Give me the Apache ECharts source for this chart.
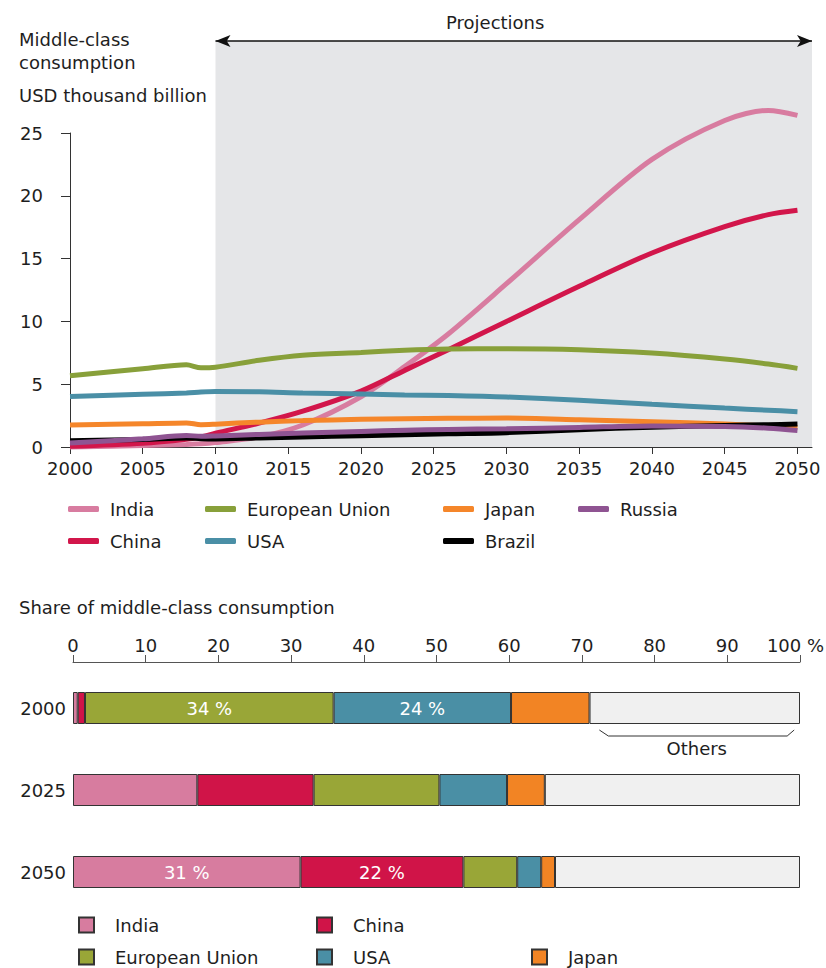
<!DOCTYPE html>
<html><head><meta charset="utf-8">
<script src="https://cdn.jsdelivr.net/npm/echarts@6/dist/echarts.min.js"></script>
<style>html,body{margin:0;padding:0;background:#fff}#c{width:826px;height:968px}</style>
</head><body><div id="c"></div>
<script>
// ---- Line chart data (USD thousand billion) ----
const years   = [2000, 2005, 2008, 2009, 2010, 2013, 2016, 2020, 2023, 2026, 2030, 2035, 2040, 2045, 2048, 2050];
const india   = [0.0, 0.12, 0.2, 0.25, 0.35, 0.8, 1.75, 4.0, 6.4, 9.0, 13.0, 18.1, 22.9, 26.0, 26.8, 26.4];
const china   = [0.05, 0.3, 0.62, 0.8, 1.1, 1.9, 2.85, 4.45, 6.1, 7.75, 10.0, 12.8, 15.45, 17.55, 18.5, 18.85];
const eu      = [5.68, 6.23, 6.55, 6.3, 6.35, 6.9, 7.3, 7.53, 7.7, 7.8, 7.83, 7.75, 7.48, 7.0, 6.6, 6.26];
const usa     = [4.03, 4.2, 4.3, 4.38, 4.42, 4.4, 4.3, 4.22, 4.15, 4.1, 3.98, 3.72, 3.4, 3.1, 2.93, 2.81];
const japan   = [1.75, 1.85, 1.92, 1.78, 1.82, 1.98, 2.1, 2.2, 2.25, 2.28, 2.3, 2.17, 2.01, 1.83, 1.68, 1.56];
const russia  = [0.32, 0.65, 0.92, 0.85, 0.88, 1.0, 1.12, 1.24, 1.33, 1.4, 1.45, 1.56, 1.68, 1.64, 1.5, 1.32];
const brazil  = [0.5, 0.6, 0.72, 0.66, 0.64, 0.72, 0.8, 0.9, 0.98, 1.05, 1.14, 1.38, 1.58, 1.72, 1.78, 1.83];
const lineNames = ['India', 'China', 'European Union', 'USA', 'Japan', 'Brazil', 'Russia'];
const lineValues = [india, china, eu, usa, japan, brazil, russia];
const yearTicks = [2000, 2005, 2010, 2015, 2020, 2025, 2030, 2035, 2040, 2045, 2050];
const projectionStart = 2010;

// ---- Share bar chart data (%) ----
const shareYears  = ['2000', '2025', '2050'];
const shareIndia  = [0.65, 17.1, 31.3];
const shareChina  = [1.0, 16.0, 22.4];
const shareEU     = [34.2, 17.3, 7.4];
const shareUSA    = [24.4, 9.3, 3.3];
const shareJapan  = [10.8, 5.2, 1.9];
const shareOthers = [28.95, 35.1, 33.7];
const shareNames  = ['India', 'China', 'European Union', 'USA', 'Japan', 'Others'];
const shareValues = [shareIndia, shareChina, shareEU, shareUSA, shareJapan, shareOthers];
const othersBracket = [[72.4, 99.2, 0]];

const FONT = 'DejaVu Sans';
const TXT = '#1e1e1e';
const lineColors = ['#d87ca0', '#d2164b', '#88a03a', '#4a8fa6', '#f5862a', '#000000', '#8f5492'];
const barColors  = ['#d77c9f', '#d01448', '#99a637', '#4a8fa5', '#f28424', '#f0f0f0'];
const SUF = ' share';

const chart = echarts.init(document.getElementById('c'), null, {renderer: 'svg'});

const series = [];
// background + projections arrow (grid 1)
series.push({
  type: 'line', xAxisIndex: 1, yAxisIndex: 1, data: [], z: -1, silent: true,
  markArea: {silent: true, itemStyle: {color: '#e5e6e8'}, data: [[{xAxis: projectionStart}, {xAxis: 'max'}]]},
  markLine: {silent: true, symbol: ['arrow', 'arrow'], symbolSize: [9, 15],
    lineStyle: {color: '#111', width: 1.5, type: 'solid'}, label: {show: false},
    data: [[{coord: [projectionStart, 1]}, {coord: [2051, 1]}]]}
});
lineNames.forEach((n, i) => {
  series.push({
    name: n, type: 'line', xAxisIndex: 0, yAxisIndex: 0, smooth: 0.3, showSymbol: false, symbol: 'none',
    clip: false, color: lineColors[i], lineStyle: {width: 5, color: lineColors[i]},
    data: years.map((y, k) => [y, lineValues[i][k]]), z: 2 + i
  });
});
shareNames.forEach((n, i) => {
  series.push({
    name: n + SUF, type: 'bar', stack: 'share', xAxisIndex: 2, yAxisIndex: 2, barWidth: 32,
    color: barColors[i], itemStyle: {color: barColors[i], borderColor: '#333', borderWidth: 1},
    label: {show: true, color: '#fff', fontFamily: FONT, fontSize: 18,
      formatter: p => p.value >= 20 && n !== 'Others' ? Math.round(p.value) + ' %' : ''},
    data: shareValues[i]
  });
});
series.push({
  type: 'custom', xAxisIndex: 2, yAxisIndex: 2, silent: true, data: othersBracket,
  renderItem: (params, api) => {
    const a = api.coord([api.value(0), api.value(2)]);
    const b = api.coord([api.value(1), api.value(2)]);
    const top = a[1] + 22, ln = a[1] + 28;
    return {type: 'group', children: [
      {type: 'polyline', shape: {points: [[a[0], top], [a[0] + 9, ln], [b[0] - 7, ln], [b[0], top]]},
        style: {stroke: '#333', lineWidth: 1, fill: null}},
      {type: 'text', x: (a[0] + b[0]) / 2, y: a[1] + 40,
        style: {text: 'Others', fill: TXT, font: '18px "' + FONT + '"', align: 'center', verticalAlign: 'middle'}}
    ]};
  }
});

const lgCommon = {orient: 'vertical', padding: 0, itemGap: 12, selectedMode: false,
  icon: 'roundRect', itemWidth: 31, itemHeight: 6, top: 499,
  textStyle: {fontFamily: FONT, fontSize: 18, color: TXT, lineHeight: 20, padding: [0, 0, 0, 6]}};
const bgCommon = {orient: 'vertical', padding: 0, itemGap: 12, selectedMode: false,
  icon: 'rect', itemWidth: 15, itemHeight: 15, top: 915,
  formatter: n => n.replace(SUF, ''),
  textStyle: {fontFamily: FONT, fontSize: 18, color: TXT, lineHeight: 20, padding: [0, 0, 0, 16]}};

const titleStyle = {fontFamily: FONT, fontSize: 18, fontWeight: 'normal', color: TXT, lineHeight: 23};

chart.setOption({
  animation: false,
  textStyle: {fontFamily: FONT},
  title: [
    {text: 'Middle-class\nconsumption', left: 19, top: 28, padding: 0, textStyle: titleStyle},
    {text: 'USD thousand billion', left: 19, top: 84, padding: 0, textStyle: titleStyle},
    {text: 'Projections', left: 446, top: 11, padding: 0, textStyle: titleStyle},
    {text: 'Share of middle-class consumption', left: 19, top: 596, padding: 0, textStyle: titleStyle}
  ],
  legend: [
    Object.assign({}, lgCommon, {left: 68, data: ['India', 'China']}),
    Object.assign({}, lgCommon, {left: 205, data: ['European Union', 'USA']}),
    Object.assign({}, lgCommon, {left: 443, data: ['Japan', 'Brazil']}),
    Object.assign({}, lgCommon, {left: 578, data: ['Russia']}),
    Object.assign({}, bgCommon, {left: 78, data: ['India' + SUF, 'European Union' + SUF]}),
    Object.assign({}, bgCommon, {left: 316, data: ['China' + SUF, 'USA' + SUF]}),
    Object.assign({}, bgCommon, {left: 531, top: 947, data: ['Japan' + SUF]})
  ],
  grid: [
    {left: 70, right: 14, top: 133, bottom: 521, containLabel: false, outerBoundsMode: 'none'},
    {left: 70, right: 14, top: 41, bottom: 521, containLabel: false, outerBoundsMode: 'none'},
    {left: 73, right: 26, top: 667, bottom: 55, containLabel: false, outerBoundsMode: 'none'}
  ],
  xAxis: [
    {type: 'value', gridIndex: 0, min: 2000, max: 2051, interval: 5,
      axisLine: {show: true, lineStyle: {color: '#333', width: 1}},
      axisTick: {show: true, length: 7, customValues: yearTicks, lineStyle: {color: '#333'}},
      axisLabel: {customValues: yearTicks, margin: 12, fontSize: 18, color: TXT, fontFamily: FONT,
        formatter: v => String(v)},
      splitLine: {show: false}},
    {type: 'value', gridIndex: 1, min: 2000, max: 2051, show: false},
    {type: 'value', gridIndex: 2, position: 'top', offset: 5, min: 0, max: 100, interval: 10,
      axisLine: {show: true, lineStyle: {color: '#555', width: 1}},
      axisTick: {show: true, length: 7, lineStyle: {color: '#555'}},
      axisLabel: {margin: 8, fontSize: 18, color: TXT, fontFamily: FONT,
        formatter: v => v === 100 ? '{e|100 %}' : String(v),
        rich: {e: {fontSize: 18, fontFamily: FONT, color: TXT, padding: [0, 9, 0, 0]}}},
      splitLine: {show: false}}
  ],
  yAxis: [
    {type: 'value', gridIndex: 0, min: 0, max: 25, interval: 5,
      axisLine: {show: true, lineStyle: {color: '#333', width: 1}},
      axisTick: {show: true, length: 9, lineStyle: {color: '#333'}},
      axisLabel: {margin: 27, fontSize: 18, color: TXT, fontFamily: FONT},
      splitLine: {show: false}},
    {type: 'value', gridIndex: 1, min: 0, max: 1, show: false},
    {type: 'category', gridIndex: 2, inverse: true, data: shareYears,
      axisLine: {show: false}, axisTick: {show: false},
      axisLabel: {margin: 7, fontSize: 18, color: TXT, fontFamily: FONT}}
  ],
  series: series
});
</script></body></html>
